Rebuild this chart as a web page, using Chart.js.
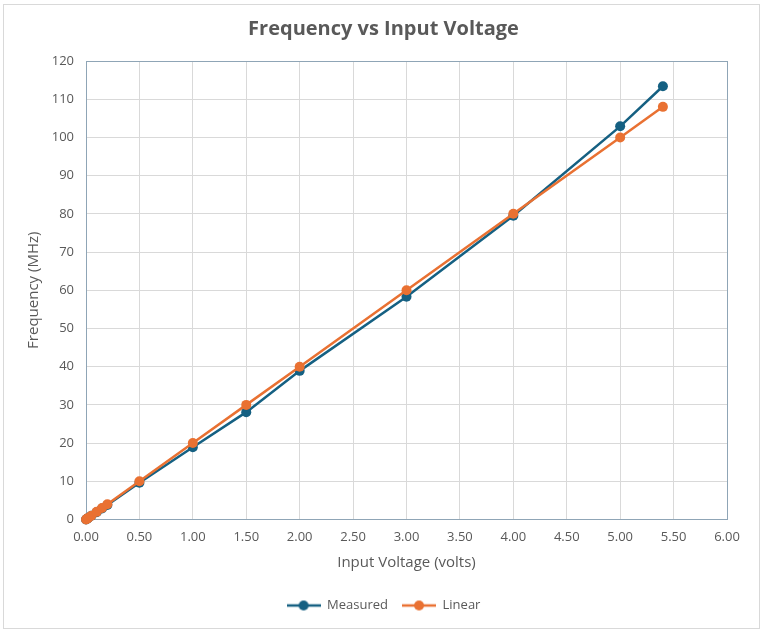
<!DOCTYPE html>
<html>
<head>
<meta charset="utf-8">
<script src="https://cdn.jsdelivr.net/npm/chart.js@4.4.1/dist/chart.umd.min.js"></script>
<style>
html,body{margin:0;padding:0;background:#fff;}
#wrap{width:767px;height:632px;position:relative;}
</style>
</head>
<body>
<div id="wrap"><canvas id="c" width="767" height="632"></canvas></div>
<script>
const voltage = [0, 0.01, 0.02, 0.05, 0.1, 0.15, 0.2, 0.5, 1.0, 1.5, 2.0, 3.0, 4.0, 5.0, 5.4];
const measured = [0, 0.2, 0.4, 1.0, 1.9, 2.9, 3.8, 9.6, 18.9, 28.1, 38.9, 58.3, 79.5, 102.9, 113.4];
const linear = [0, 0.2, 0.4, 1.0, 2.0, 3.0, 4.0, 10.0, 20.0, 30.0, 40.0, 60.0, 80.0, 100.0, 108.0];
const seriesNames = ['Measured', 'Linear'];
const seriesColors = ['#156082', '#E97132'];

const FONT = "'Open Sans', 'Liberation Sans', sans-serif";
const TXT = '#595959';
const GRID = '#d9d9d9';
const FRAME = '#8fa5b6';

function legendMarker(color) {
  const cv = document.createElement('canvas');
  cv.width = 34; cv.height = 12;
  const g = cv.getContext('2d');
  g.strokeStyle = color; g.lineWidth = 2.5;
  g.beginPath(); g.moveTo(0, 6); g.lineTo(34, 6); g.stroke();
  g.fillStyle = color;
  g.beginPath(); g.arc(17, 6, 5, 0, Math.PI * 2); g.fill();
  return cv;
}
const markers = seriesColors.map(legendMarker);

function toPts(ys) { return voltage.map((x, i) => ({x: x, y: ys[i]})); }

const outerBorder = {
  id: 'outerBorder',
  beforeDraw(chart) {
    const ctx = chart.ctx;
    ctx.save();
    ctx.fillStyle = '#fff';
    ctx.fillRect(0, 0, chart.width, chart.height);
    ctx.strokeStyle = '#d9d9d9';
    ctx.lineWidth = 1;
    ctx.strokeRect(3.5, 4.5, 756, 624);
    ctx.restore();
  }
};

new Chart(document.getElementById('c'), {
  type: 'line',
  data: {
    datasets: [measured, linear].map((ys, i) => ({
      label: seriesNames[i],
      data: toPts(ys),
      borderColor: seriesColors[i],
      backgroundColor: seriesColors[i],
      borderWidth: 2.5,
      pointRadius: 5,
      pointHoverRadius: 5,
      pointBorderWidth: 0,
      tension: 0,
      fill: false,
      clip: false,
      order: i === 0 ? 2 : 1
    }))
  },
  options: {
    responsive: false,
    animation: false,
    devicePixelRatio: 1,
    layout: {padding: {left: 0, right: 0, top: 0, bottom: 10}},
    plugins: {
      title: {
        display: true,
        text: 'Frequency vs Input Voltage',
        color: TXT,
        font: {family: FONT, size: 20, weight: 'bold'},
        padding: {top: 17, bottom: 20}
      },
      legend: {
        position: 'bottom',
        labels: {
          color: TXT,
          font: {family: FONT, size: 13},
          usePointStyle: true,
          pointStyleWidth: 34,
          boxHeight: 12,
          padding: 14,
          sort: (a, b) => a.datasetIndex - b.datasetIndex,
          generateLabels(chart) {
            const items = Chart.defaults.plugins.legend.labels.generateLabels(chart);
            items.forEach(it => { it.pointStyle = markers[it.datasetIndex]; });
            return items;
          }
        }
      },
      tooltip: {enabled: false}
    },
    scales: {
      x: {
        type: 'linear',
        min: 0, max: 6,
        afterFit(s) { s.height = 65.5; },
        ticks: {
          stepSize: 0.5,
          color: TXT,
          font: {family: FONT, size: 13},
          padding: 10,
          maxRotation: 0,
          callback: v => Number(v).toFixed(2)
        },
        grid: {
          drawTicks: false,
          color: c => (c.tick && c.tick.value === 6) ? FRAME : GRID,
          lineWidth: 1
        },
        border: {display: true, color: FRAME, width: 1},
        title: {
          display: true,
          text: 'Input Voltage (volts)',
          color: TXT,
          font: {family: FONT, size: 15},
          padding: {top: 0, bottom: 13}
        }
      },
      y: {
        min: 0, max: 120,
        afterFit(s) { s.width = 86; },
        ticks: {
          stepSize: 10,
          color: TXT,
          font: {family: FONT, size: 13},
          padding: 12
        },
        grid: {
          drawTicks: false,
          color: c => (c.tick && c.tick.value === 120) ? FRAME : GRID,
          lineWidth: 1
        },
        border: {display: true, color: FRAME, width: 1},
        title: {
          display: true,
          text: 'Frequency (MHz)',
          color: TXT,
          font: {family: FONT, size: 15},
          padding: {top: 25, bottom: 0}
        }
      },
      yPad: {
        position: 'right',
        display: true,
        afterFit(s) { s.width = 40; },
        ticks: {display: false},
        grid: {display: false, drawTicks: false},
        border: {display: false}
      }
    }
  },
  plugins: [outerBorder]
});
</script>
</body>
</html>
